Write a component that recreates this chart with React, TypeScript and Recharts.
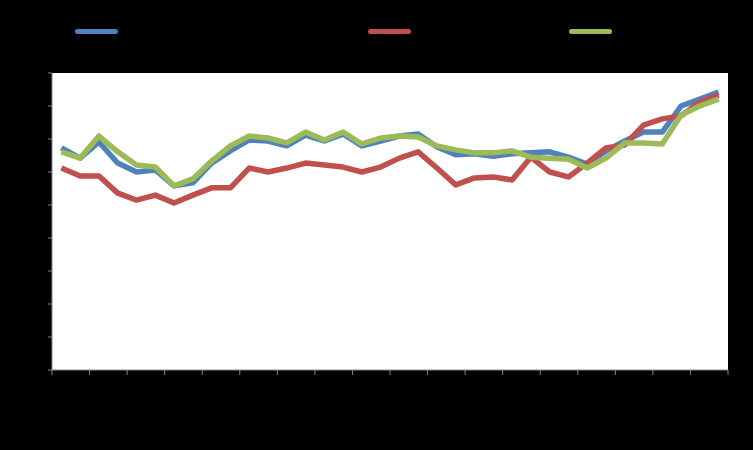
import { LineChart, Line, XAxis, YAxis, CartesianGrid, Legend } from 'recharts'

// 36 periods, x ticks every 2 periods
const SERIES_NAMES = ['Série 1', 'Série 2', 'Série 3']
const COLORS = ['#4F81BD', '#C0504D', '#9BBB59']

const BLUE = [
  67.3, 64.2, 69.1, 62.7, 60.0, 60.6, 55.8, 56.7, 62.7, 66.4,
  69.7, 69.4, 67.9, 71.2, 69.4, 71.5, 67.9, 69.4, 70.9, 71.5,
  67.6, 65.2, 65.5, 64.8, 65.5, 65.8, 66.1, 64.5, 62.4, 66.4,
  69.4, 72.1, 72.1, 80.0, 82.1, 84.2,
]
const RED = [
  61.2, 58.8, 58.8, 53.6, 51.5, 53.0, 50.6, 53.0, 55.2, 55.2,
  61.2, 60.0, 61.2, 62.7, 62.1, 61.5, 60.0, 61.5, 64.2, 66.1,
  61.2, 56.1, 58.2, 58.5, 57.6, 64.5, 60.0, 58.5, 62.7, 67.3,
  68.2, 74.2, 76.1, 77.0, 81.2, 83.3,
]
const GREEN = [
  66.1, 64.2, 70.9, 66.1, 62.1, 61.5, 55.8, 57.9, 63.3, 67.9,
  70.9, 70.3, 68.8, 72.1, 69.7, 72.1, 68.5, 70.3, 70.9, 70.6,
  67.9, 66.7, 65.8, 65.8, 66.4, 64.5, 64.2, 63.9, 61.2, 64.2,
  68.8, 68.8, 68.5, 77.3, 80.0, 82.1,
]

const X_TICKS = [0, 2, 4, 6, 8, 10, 12, 14, 16, 18, 20, 22, 24, 26, 28, 30, 32, 34, 36]
const Y_TICKS = [0, 10, 20, 30, 40, 50, 60, 70, 80, 90]

const data = BLUE.map((v, i) => ({
  x: i + 0.5,
  s1: v,
  s2: RED[i],
  s3: GREEN[i],
}))

const LEGEND_LEFT = [75, 368, 569]

const ChartLegend = () => (
  <div style={{ position: 'relative', width: 753, height: 60 }}>
    {SERIES_NAMES.map((name, i) => (
      <div
        key={name}
        style={{ position: 'absolute', left: LEGEND_LEFT[i], top: 24, display: 'flex', alignItems: 'center' }}
      >
        <div style={{ width: 43, height: 5, borderRadius: 3, background: COLORS[i] }} />
        <span style={{ marginLeft: 6, color: '#000', fontSize: 13, fontFamily: 'Liberation Sans, Arial' }}>{name}</span>
      </div>
    ))}
  </div>
)

export default function App() {
  return (
    <div style={{ position: 'absolute', left: 0, top: 0, width: 753, height: 450, background: '#000' }}>
      <LineChart width={753} height={450} data={data} margin={{ top: 13, right: 25, left: 12, bottom: 50 }}>
        <CartesianGrid fill="#FFFFFF" horizontal={false} vertical={false} />
        <XAxis
          type="number"
          dataKey="x"
          domain={[0, 36]}
          ticks={X_TICKS}
          interval={0}
          height={30}
          stroke="#868686"
          tickSize={5}
          tick={{ fill: '#000', fontSize: 12 }}
        />
        <YAxis
          domain={[0, 90]}
          ticks={Y_TICKS}
          width={40}
          stroke="#868686"
          tickSize={4}
          tick={{ fill: '#000', fontSize: 12 }}
        />
        <Legend verticalAlign="top" height={60} wrapperStyle={{ top: 0, left: 0 }} content={<ChartLegend />} />
        <Line type="linear" dataKey="s1" name={SERIES_NAMES[0]} stroke={COLORS[0]} strokeWidth={5.5} dot={false} strokeLinejoin="round" isAnimationActive={false} />
        <Line type="linear" dataKey="s2" name={SERIES_NAMES[1]} stroke={COLORS[1]} strokeWidth={5.5} dot={false} strokeLinejoin="round" isAnimationActive={false} />
        <Line type="linear" dataKey="s3" name={SERIES_NAMES[2]} stroke={COLORS[2]} strokeWidth={5.5} dot={false} strokeLinejoin="round" isAnimationActive={false} />
      </LineChart>
    </div>
  )
}
